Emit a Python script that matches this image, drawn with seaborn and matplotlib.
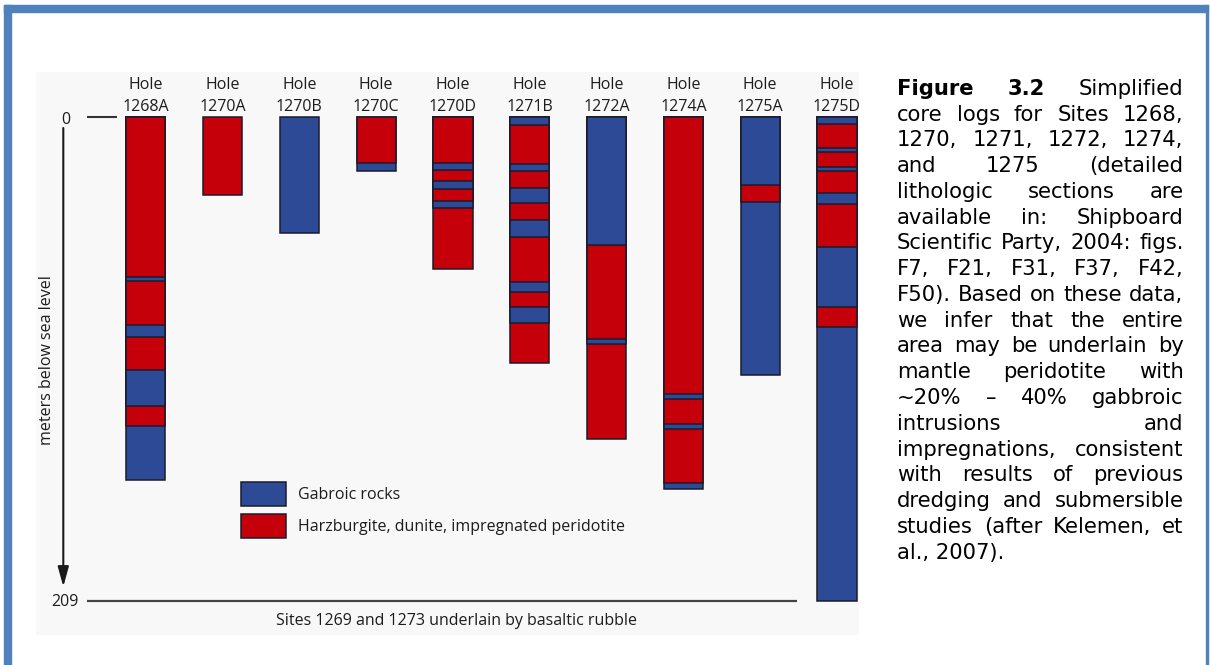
import numpy as np
import pandas as pd
import matplotlib
matplotlib.use("Agg")
import matplotlib.pyplot as plt
from matplotlib.patches import Patch, Rectangle
import seaborn as sns

# ---------------- data ----------------
holes = ["1268A", "1270A", "1270B", "1270C", "1270D",
         "1271B", "1272A", "1274A", "1275A", "1275D"]

# base depth (m below sea level) of each interval, listed top -> bottom
# rock: G = gabbroic rocks, P = harzburgite/dunite/impregnated peridotite
base_1268A = [69.1, 70.8, 89.8, 95.0, 109.2, 124.8, 133.4, 156.7]
rock_1268A = ["P", "G", "P", "G", "P", "G", "P", "G"]
base_1270A = [33.7]
rock_1270A = ["P"]
base_1270B = [50.2]
rock_1270B = ["G"]
base_1270C = [19.6, 23.2]
rock_1270C = ["P", "G"]
base_1270D = [19.6, 22.6, 27.6, 31.1, 36.3, 39.4, 65.6]
rock_1270D = ["P", "G", "P", "G", "P", "G", "P"]
base_1271B = [3.2, 20.4, 23.3, 30.5, 37.0, 44.5, 51.9, 71.1, 75.4, 81.9, 89.1, 106.3]
rock_1271B = ["G", "P", "G", "P", "G", "P", "G", "P", "G", "P", "G", "P"]
base_1272A = [55.3, 96.0, 98.1, 139.2]
rock_1272A = ["G", "P", "G", "P"]
base_1274A = [119.7, 121.9, 132.7, 134.7, 158.2, 160.5]
rock_1274A = ["P", "G", "P", "G", "P", "G"]
base_1275A = [29.1, 36.6, 111.4]
rock_1275A = ["G", "P", "G"]
base_1275D = [2.7, 13.1, 15.0, 21.5, 23.3, 32.9, 37.3, 56.0, 82.2, 90.5, 209.0]
rock_1275D = ["G", "P", "G", "P", "G", "P", "G", "P", "G", "P", "G"]

depth_ticks = [0, 209]
legend_labels = {"G": "Gabroic rocks",
                 "P": "Harzburgite, dunite, impregnated peridotite"}
y_label = "meters below sea level"
bottom_note = "Sites 1269 and 1273 underlain by basaltic rubble"

caption_lines = [
    "Figure 3.2 Simplified",
    "core logs for Sites 1268,",
    "1270, 1271, 1272, 1274,",
    "and 1275 (detailed",
    "lithologic sections are",
    "available in: Shipboard",
    "Scientific Party, 2004: figs.",
    "F7, F21, F31, F37, F42,",
    "F50). Based on these data,",
    "we infer that the entire",
    "area may be underlain by",
    "mantle peridotite with",
    "~20% \u2013 40% gabbroic",
    "intrusions and",
    "impregnations, consistent",
    "with results of previous",
    "dredging and submersible",
    "studies (after Kelemen, et",
    "al., 2007).",
]
caption_bold = ["Figure", "3.2"]

bases = {"1268A": base_1268A, "1270A": base_1270A, "1270B": base_1270B,
         "1270C": base_1270C, "1270D": base_1270D, "1271B": base_1271B,
         "1272A": base_1272A, "1274A": base_1274A, "1275A": base_1275A,
         "1275D": base_1275D}
rocks = {"1268A": rock_1268A, "1270A": rock_1270A, "1270B": rock_1270B,
         "1270C": rock_1270C, "1270D": rock_1270D, "1271B": rock_1271B,
         "1272A": rock_1272A, "1274A": rock_1274A, "1275A": rock_1275A,
         "1275D": rock_1275D}

rows = []
for h in holes:
    b = bases[h]
    r = rocks[h]
    n = len(b)
    for i in range(n):
        # layer 0 = deepest interval (drawn first, shallower ones on top)
        rows.append({"hole": h, "base": b[i], "rock": r[i], "layer": n - 1 - i})
df = pd.DataFrame(rows)

# ---------------- style ----------------
W, H = 1210, 665
sns.set_theme(style="white")
plt.rcParams["font.family"] = ["Open Sans", "DejaVu Sans"]

RED = "#c5000b"
BLUE = "#2d4a97"
EDGE = "#1c1c2a"
TXT = "#1e1b1c"
palette = {"G": BLUE, "P": RED}

fig = plt.figure(figsize=(W / 100, H / 100), dpi=100)
fig.patch.set_facecolor("white")


def fx(x):
    return x / W


def fy(y):
    return 1 - y / H


# page frame (blue border)
BORDER = "#4f81bd"
fig.patches.append(Rectangle((fx(4), fy(12)), fx(1208) - fx(4), fy(5) - fy(12),
                             transform=fig.transFigure, color=BORDER, zorder=0))
fig.patches.append(Rectangle((fx(4), 0), fx(11) - fx(4), fy(5),
                             transform=fig.transFigure, color=BORDER, zorder=0))
fig.patches.append(Rectangle((fx(1206), 0), fx(1208) - fx(1206), fy(5),
                             transform=fig.transFigure, color=BORDER, zorder=0))

# chart axes (light grey panel)
AX_L, AX_R, AX_T, AX_B = 36, 859, 72, 635
ax = fig.add_axes([fx(AX_L), fy(AX_B), fx(AX_R) - fx(AX_L), fy(AX_T) - fy(AX_B)])
ax.set_facecolor("#f8f8f8")

for layer in sorted(df["layer"].unique()):
    sub = df[df["layer"] == layer]
    sns.barplot(data=sub, x="hole", y="base", hue="rock", order=holes,
                hue_order=["G", "P"], palette=palette, dodge=False,
                width=0.508, saturation=1, errorbar=None, legend=False,
                edgecolor=EDGE, linewidth=1.1, ax=ax)

# scales: categorical x positions 0..9 -> pixel centres 145.8 .. 837
c0, step = 145.8, 76.8
ax.set_xlim((AX_L - c0) / step, (AX_R - c0) / step)
y0px, mpp = 117.3, (600.7 - 117.3) / 209.0
ax.set_ylim((AX_B - y0px) / mpp, (AX_T - y0px) / mpp)
ax.set_xticks([])
ax.set_yticks([])
ax.set_xlabel("")
ax.set_ylabel("")
for s in ax.spines.values():
    s.set_visible(False)


def dx(px):
    return (px - c0) / step


def dy(py):
    return (py - y0px) / mpp


FS = 11.5
# hole labels
for i, h in enumerate(holes):
    ax.text(i, dy(89.3), "Hole", ha="center", va="baseline", fontsize=FS, color=TXT)
    ax.text(i, dy(110.7), h, ha="center", va="baseline", fontsize=FS, color=TXT)

# depth scale
ax.text(dx(65.8), dy(124.0), str(depth_ticks[0]), ha="center", va="baseline",
        fontsize=FS, color=TXT)
ax.text(dx(65.0), dy(606.0), str(depth_ticks[1]), ha="center", va="baseline",
        fontsize=FS, color=TXT)
ax.hlines(depth_ticks[0], dx(87.3), dx(116.7), color="#333333", lw=1.5)
ax.hlines(depth_ticks[1], dx(87.3), dx(797.3), color="#444444", lw=1.6)
ax.annotate("", xy=(dx(63.3), dy(586.7)), xytext=(dx(63.3), dy(128.0)),
            arrowprops=dict(arrowstyle="-|>,head_length=1.2,head_width=0.33",
                            mutation_scale=10, lw=1.5, color="#1a1a1a",
                            shrinkA=0, shrinkB=0))
ax.text(dx(47.0), dy(360.0), y_label, rotation=90, ha="center", va="center",
        fontsize=FS, color=TXT)
ax.text(dx(456.3), dy(625.0), bottom_note, ha="center", va="baseline",
        fontsize=FS, color=TXT)

# legend
handles = [Patch(facecolor=palette[k], edgecolor=EDGE, linewidth=1.1) for k in ["G", "P"]]
fsp = FS * 100 / 72
# matplotlib: patch height = fs*(0.65*hh + 0.245)
hh = (23.4 / fsp - 0.245) / 0.65
ax.legend(handles, [legend_labels["G"], legend_labels["P"]],
          loc="upper left", bbox_to_anchor=(fx(241), fy(482.3)),
          bbox_transform=fig.transFigure, frameon=False, borderpad=0,
          borderaxespad=0, fontsize=FS, handlelength=45 / fsp,
          handleheight=hh, labelspacing=8.6 / fsp,
          handletextpad=0.75, labelcolor=TXT)

# caption (justified text block)
CAP_L, CAP_R = 897.0, 1183.5
CAP_Y0, CAP_DY = 95.0, 25.75
CAP_FS = 15.2
renderer = fig.canvas.get_renderer()
for k, line in enumerate(caption_lines):
    ypx = CAP_Y0 + k * CAP_DY
    words = line.split(" ")
    if k == len(caption_lines) - 1:
        fig.text(fx(CAP_L), fy(ypx), line, fontsize=CAP_FS, family="DejaVu Sans",
                 color="black", va="baseline", ha="left")
        continue
    texts = []
    for w in words:
        bold = (k == 0 and w in caption_bold)
        t = fig.text(0, 0, w, fontsize=CAP_FS, family="DejaVu Sans",
                     fontweight="bold" if bold else "normal",
                     color="black", va="baseline", ha="left")
        texts.append(t)
    widths = [t.get_window_extent(renderer).width for t in texts]
    gap = (CAP_R - CAP_L - sum(widths)) / max(len(texts) - 1, 1)
    x = CAP_L
    for t, wdt in zip(texts, widths):
        t.set_position((fx(x), fy(ypx)))
        x += wdt + gap

fig.savefig("out.png", dpi=100, facecolor="white")
